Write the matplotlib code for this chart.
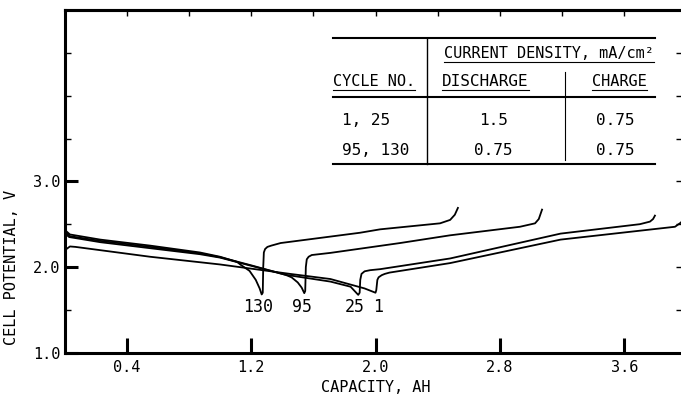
import numpy as np
import matplotlib.pyplot as plt
from matplotlib.ticker import MultipleLocator, FixedLocator

plt.rcParams['font.family'] = ['DejaVu Sans Mono', 'DejaVu Sans']

# data (capacity in Ah, cell potential in V)
# each cycle: discharge branch then charge branch
cap_1 = [0.005, 0.035, 0.07, 0.55, 1.0, 1.45, 1.71, 1.93, 2.0,
         2.005, 2.012, 2.02, 2.04, 2.06, 2.09, 2.48, 3.19, 3.926, 3.965, 4.0]
volt_1 = [2.20, 2.24, 2.235, 2.12, 2.03, 1.92, 1.86, 1.75, 1.70,
          1.73, 1.85, 1.88, 1.905, 1.92, 1.935, 2.046, 2.32, 2.47, 2.52, 2.62]

cap_25 = [0.0, 0.01, 0.03, 0.23, 0.55, 0.87, 1.0, 1.42, 1.71, 1.84, 1.889,
          1.898, 1.902, 1.91, 1.93, 1.965, 2.03, 2.48, 3.19, 3.70, 3.765, 3.785, 3.797]
volt_25 = [2.42, 2.38, 2.35, 2.29, 2.22, 2.15, 2.11, 1.91, 1.83, 1.77, 1.675,
           1.70, 1.85, 1.92, 1.95, 1.963, 1.975, 2.10, 2.39, 2.50, 2.53, 2.56, 2.60]

cap_95 = [0.0, 0.01, 0.035, 0.23, 0.55, 0.87, 1.0, 1.2, 1.42, 1.46, 1.50, 1.525, 1.542,
          1.548, 1.552, 1.558, 1.57, 1.59, 1.71, 2.158, 2.479, 2.929, 3.026, 3.05, 3.071]
volt_95 = [2.45, 2.40, 2.36, 2.305, 2.235, 2.16, 2.115, 2.02, 1.91, 1.88, 1.82, 1.76, 1.695,
           1.72, 2.0, 2.09, 2.12, 2.14, 2.165, 2.28, 2.37, 2.47, 2.51, 2.56, 2.67]

cap_130 = [0.0, 0.01, 0.035, 0.23, 0.55, 0.87, 1.0, 1.11, 1.13, 1.19, 1.23, 1.255, 1.268,
           1.275, 1.278, 1.282, 1.29, 1.305, 1.33, 1.39, 1.90, 2.03, 2.415, 2.48, 2.51, 2.53]
volt_130 = [2.47, 2.42, 2.38, 2.32, 2.25, 2.17, 2.12, 2.06, 2.03, 1.955, 1.85, 1.75, 1.68,
            1.70, 2.0, 2.17, 2.21, 2.235, 2.25, 2.28, 2.40, 2.44, 2.51, 2.55, 2.61, 2.69]

# curve labels: cycle number, x position, y position
cycle_names = ['130', '95', '25', '1']
label_x = [1.245, 1.525, 1.868, 2.014]
label_y = [1.53, 1.53, 1.53, 1.53]

# table contents
table_rows = [['1, 25', '1.5', '0.75'],
              ['95, 130', '0.75', '0.75']]

####################################################################
fig = plt.figure(figsize=(6.81, 3.97), dpi=100)
ax = fig.add_axes([64.5/681, 44.3/397, 622/681, 342.7/397])

for c, v in [(cap_1, volt_1), (cap_25, volt_25), (cap_95, volt_95), (cap_130, volt_130)]:
    ax.plot(c, v, color='k', lw=1.3)

ax.set_xlim(0, 4.0)
ax.set_ylim(1.0, 5.0)

# ticks
ax.xaxis.set_major_locator(FixedLocator([0.4, 1.2, 2.0, 2.8, 3.6]))
ax.yaxis.set_major_locator(FixedLocator([1.0, 2.0, 3.0]))
ax.yaxis.set_minor_locator(MultipleLocator(0.5))
ax.tick_params(axis='x', which='major', direction='in', length=11, width=2.2,
               labelsize=11, pad=5, top=False)
ax.tick_params(axis='y', which='major', direction='in', length=9.5, width=2.2,
               labelsize=11, pad=3, right=False)
ax.tick_params(axis='y', which='minor', direction='in', length=4.5, width=1.0, right=False)
ax.xaxis.set_major_formatter(plt.FuncFormatter(lambda v, p: '%.1f' % v))
ax.yaxis.set_major_formatter(plt.FuncFormatter(lambda v, p: '%.1f' % v))

top = ax.secondary_xaxis('top')
top.xaxis.set_major_locator(MultipleLocator(0.4))
top.tick_params(direction='in', length=4.5, width=1.0, labeltop=False)
right = ax.secondary_yaxis('right')
right.yaxis.set_major_locator(MultipleLocator(0.5))
right.tick_params(direction='in', length=8, width=1.0, labelright=False)
right.spines['right'].set_visible(False)

for sp in ['left', 'bottom', 'top']:
    ax.spines[sp].set_linewidth(2.2)
top.spines['top'].set_linewidth(2.2)
ax.spines['right'].set_visible(False)

ax.set_ylabel('CELL POTENTIAL, V', fontsize=11)
ax.yaxis.set_label_coords(-0.073, 0.25)
ax.set_xlabel('CAPACITY, AH', fontsize=11)
ax.xaxis.set_label_coords(0.5, -0.103)
ax.xaxis.label.set_va('center')

for name, lx, ly in zip(cycle_names, label_x, label_y):
    ax.text(lx, ly, name, fontsize=12, ha='center', va='center')

####################################################################
# table in the upper right (axes fraction coordinates)
tr = ax.transAxes
def hline(y, x0, x1, lw):
    ax.plot([x0, x1], [y, y], color='k', lw=lw, transform=tr, clip_on=False)

hline(0.917, 0.432, 0.949, 1.5)
hline(0.747, 0.432, 0.949, 1.5)
hline(0.551, 0.432, 0.949, 1.5)
ax.plot([0.582, 0.582], [0.917, 0.551], color='k', lw=1.0, transform=tr)
ax.plot([0.805, 0.805], [0.819, 0.562], color='k', lw=0.8, transform=tr)

heads = [ax.text(0.779, 0.874, 'CURRENT DENSITY, mA/cm²', fontsize=11, ha='center', va='center', transform=tr),
         ax.text(0.432, 0.791, 'CYCLE NO.', fontsize=11, ha='left', va='center', transform=tr),
         ax.text(0.677, 0.791, 'DISCHARGE', fontsize=11.5, ha='center', va='center', transform=tr),
         ax.text(0.892, 0.791, 'CHARGE', fontsize=11, ha='center', va='center', transform=tr)]

row_y = [0.679, 0.591]
col_x = [0.446, 0.690, 0.885]
col_ha = ['left', 'center', 'center']
for row, ry in zip(table_rows, row_y):
    for val, cx, ha in zip(row, col_x, col_ha):
        ax.text(cx, ry, val, fontsize=11.5, ha=ha, va='center', transform=tr)

# underline the header words
fig.canvas.draw()
inv = tr.inverted()
for t in heads:
    bb = t.get_window_extent()
    (x0, y0), (x1, y1) = inv.transform([(bb.x0, bb.y0), (bb.x1, bb.y1)])
    hline(y0 - 0.004, x0, x1, 0.8)

fig.savefig('out.png', dpi=100)
